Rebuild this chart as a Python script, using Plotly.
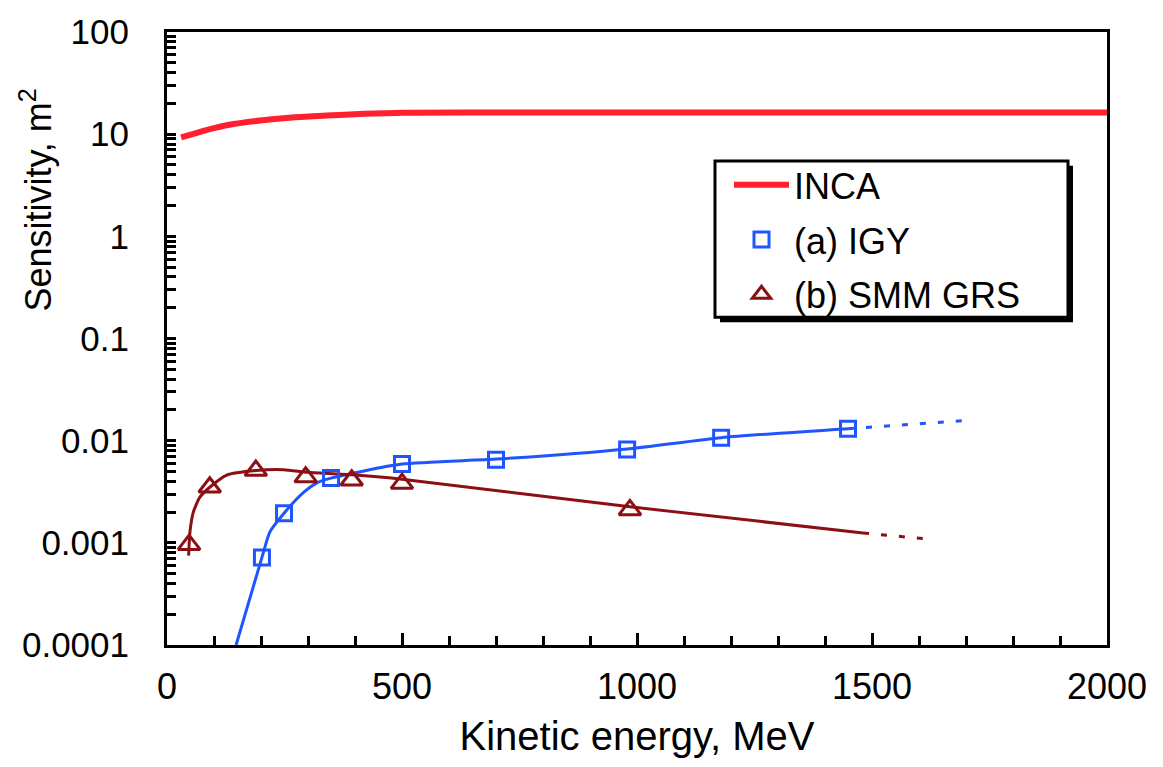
import plotly.graph_objects as go

# ---- data ----
inca_x = [30, 60, 91, 130, 198, 260, 340, 420, 502, 700, 1000, 1500, 2000]
inca_y = [9.3, 10.2, 11.2, 12.3, 13.6, 14.5, 15.2, 15.8, 16.2, 16.3, 16.3, 16.3, 16.3]

igy_x = [202, 249, 349, 500, 700, 979, 1179, 1449]
igy_y = [0.00072, 0.00195, 0.0043, 0.0059, 0.0065, 0.0082, 0.0107, 0.0131]
igy_fit_x = [147, 202, 219, 249, 290, 319, 349, 500, 700, 979, 1179, 1449]
igy_fit_y = [0.0001, 0.00072, 0.00128, 0.00195, 0.0031, 0.00387, 0.0043, 0.0059, 0.0066, 0.0083, 0.0107, 0.0131]
igy_ext_x = [1449, 1694]
igy_ext_y = [0.0131, 0.0157]

smm_x = [47, 91, 189, 295, 393, 500, 985]
smm_y = [0.00096, 0.0035, 0.0051, 0.0044, 0.0041, 0.0038, 0.0021]
smm_fit_x = [46, 49, 56, 70, 91, 127, 189, 248, 300, 400, 500, 985, 1481]
smm_fit_y = [0.00075, 0.0013, 0.0020, 0.0028, 0.0035, 0.0046, 0.0051, 0.0052, 0.0049, 0.0046, 0.0042, 0.00225, 0.00125]
smm_ext_x = [1481, 1617]
smm_ext_y = [0.00125, 0.00109]

y_tickvals = [0.0001, 0.001, 0.01, 0.1, 1, 10, 100]
y_ticktext = ["0.0001", "0.001", "0.01", "0.1", "1", "10", "100"]
x_tickvals = [0, 500, 1000, 1500, 2000]

RED = "#ff1f2e"
BLUE = "#1f55ff"
BROWN = "#8c0f14"
FONT = "Liberation Sans, Arial, sans-serif"

fig = go.Figure()

# fitted curves (no legend)
fig.add_trace(go.Scatter(x=igy_fit_x, y=igy_fit_y, mode="lines", line=dict(color=BLUE, width=3, shape="spline", smoothing=0.6), showlegend=False, hoverinfo="skip"))
fig.add_trace(go.Scatter(x=igy_ext_x, y=igy_ext_y, mode="lines", line=dict(color=BLUE, width=3, dash="6px,12px"), showlegend=False, hoverinfo="skip"))
fig.add_trace(go.Scatter(x=smm_fit_x, y=smm_fit_y, mode="lines", line=dict(color=BROWN, width=3, shape="spline", smoothing=0.6), showlegend=False, hoverinfo="skip"))
fig.add_trace(go.Scatter(x=smm_ext_x, y=smm_ext_y, mode="lines", line=dict(color=BROWN, width=3, dash="6px,12px"), showlegend=False, hoverinfo="skip"))

# legend traces
fig.add_trace(go.Scatter(x=inca_x, y=inca_y, mode="lines", name="INCA", line=dict(color=RED, width=6, shape="spline"), legendgroup="a"))
fig.add_trace(go.Scatter(x=igy_x, y=igy_y, mode="markers", name="(a) IGY",
                         marker=dict(symbol="square-open", size=15, color=BLUE, line=dict(width=3, color=BLUE)), legendgroup="b"))
fig.add_trace(go.Scatter(x=smm_x, y=smm_y, mode="markers", name="(b) SMM GRS",
                         marker=dict(symbol="triangle-up-open", size=19, color=BROWN, line=dict(width=3, color=BROWN)), legendgroup="c"))

def px_x(p):
    return (p - 167) / 940

def px_y(p):
    return (645 - p) / 623

# legend frame with drop shadow
fig.add_shape(type="rect", xref="paper", yref="paper",
              x0=px_x(720), x1=px_x(1073), y0=px_y(317), y1=px_y(158),
              fillcolor="black", line=dict(width=0), layer="above")
fig.add_shape(type="rect", xref="paper", yref="paper",
              x0=px_x(715), x1=px_x(1068), y0=px_y(312), y1=px_y(153),
              fillcolor="white", line=dict(width=3, color="black"), layer="above")

fig.add_annotation(text="Sensitivity, m<sup>2</sup>", xref="paper", yref="paper", x=-0.139, y=0.7255,
                   textangle=-90, showarrow=False, xanchor="center", yanchor="middle",
                   font=dict(family=FONT, size=36, color="black"))

fig.update_layout(
    width=1163, height=767,
    margin=dict(l=167, r=56, t=22, b=122),
    paper_bgcolor="white", plot_bgcolor="white",
    font=dict(family=FONT, color="black"),
    legend=dict(x=px_x(715), y=px_y(153) + 0.01, xanchor="left", yanchor="top",
                bgcolor="rgba(0,0,0,0)", borderwidth=0, font=dict(size=36, family=FONT, color="black"),
                tracegroupgap=5, itemsizing="trace", itemwidth=55, indentation=14),
)
fig.update_xaxes(range=[0, 2000], tickvals=x_tickvals, ticks="inside", ticklen=12, tickwidth=2.5, tickcolor="black",
                 showline=True, linecolor="black", linewidth=3, mirror=True, showgrid=False, zeroline=False,
                 tickfont=dict(size=36, family=FONT), ticklabelstandoff=8,
                 minor=dict(dtick=100, tick0=0, ticks="inside", ticklen=9, tickwidth=2.5, tickcolor="black", showgrid=False),
                 title=dict(text="Kinetic energy, MeV", font=dict(size=40, family=FONT), standoff=16))
minor_y = [m * 10 ** k for k in range(-4, 2) for m in range(2, 10)]
fig.update_yaxes(type="log", range=[-4, 2], tickvals=y_tickvals, ticktext=y_ticktext, ticks="inside", ticklen=9,
                 tickwidth=2.5, tickcolor="black", showline=True, linecolor="black", linewidth=3, mirror=True,
                 showgrid=False, zeroline=False, tickfont=dict(size=35, family=FONT), ticklabelstandoff=28,
                 minor=dict(tickvals=minor_y, ticks="inside", ticklen=9, tickwidth=2.5, tickcolor="black", showgrid=False))

fig.write_html("out.html")
